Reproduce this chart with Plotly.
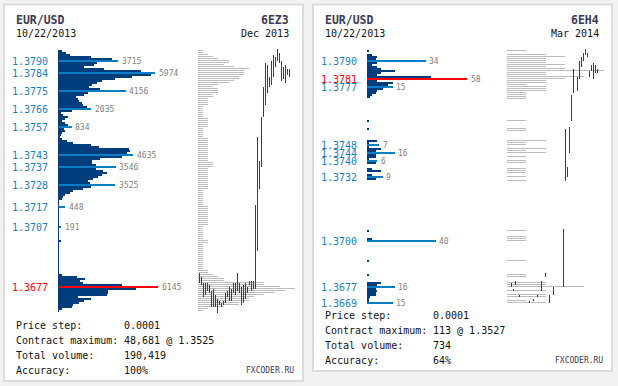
import plotly.graph_objects as go

W, H = 618, 386
PRICE_TOP = 1.3795
PRICE_STEP = 0.0001

# ---------------- Panel 1 (6EZ3, Dec 2013) ----------------
P1_VOL = [246, 492, 737, 2028, 3318, 3715, 2397, 2212, 1598, 2827,
          5100, 5974, 5715, 4547, 3503, 2704, 2397, 2089, 1905, 2581,
          4156, 1844, 1598, 1106, 1229, 1290, 1475, 1536, 1782, 2035,
          860, 184, 307, 615, 430, 246, 430, 615, 834, 369,
          430, 246, 184, 123, 246, 553, 922, 2028, 2519, 4363,
          4424, 4240, 4635, 3933, 2581, 2089, 2089, 2335, 3546, 2335,
          2765, 3011, 2704, 2458, 2151, 1844, 1966, 3525, 2028, 1536,
          922, 737, 430, 307, 246, 61, 0, 61, 448, 0,
          0, 0, 0, 0, 0, 61, 61, 0, 191, 0,
          0, 0, 0, 0, 0, 184, 0, 0, 61, 0,
          0, 0, 0, 0, 0, 0, 0, 0, 0, 0,
          0, 0, 246, 1168, 1659, 1352, 1536, 3933, 6145, 4793,
          3073, 3073, 3011, 1229, 2028, 1598, 1290, 922, 860, 246, 61]
P1_HL_PRICE = [1.3790, 1.3784, 1.3775, 1.3766, 1.3757, 1.3743, 1.3737, 1.3728, 1.3717, 1.3707, 1.3677]
P1_HL_VOL = [3715, 5974, 4156, 2035, 834, 4635, 3546, 3525, 448, 191, 6145]
P1_GRAY = [1, 1, 2, 3, 4, 6, 6, 5, 7, 10,
           9, 9, 9, 8, 8, 7, 6, 4, 3, 4,
           4, 4, 3, 3, 2, 2, 2, 2, 1, 1,
           1, 1, 1, 1, 2, 2, 2, 2, 2, 1,
           1, 1, 1, 1, 2, 2, 2, 2, 2, 2,
           2, 2, 2, 2, 2, 2, 3, 3, 3, 2,
           2, 2, 2, 2, 2, 2, 2, 2, 2, 2,
           1, 1, 1, 1, 1, 1, 1, 1, 2, 2,
           2, 2, 2, 2, 2, 2, 2, 2, 1, 1,
           1, 1, 1, 1, 1, 2, 2, 1, 1, 1,
           1, 1, 1, 1, 1, 1, 1, 1, 1, 1,
           2, 2, 3, 4, 5, 5, 13, 13, 16, 19,
           17, 15, 13, 11, 10, 10, 8, 8, 5, 2, 1]
P1_BAR_IDX = list(range(46))
P1_BAR_HIGH = [1.3684, 1.3682, 1.3679, 1.3679, 1.3679, 1.3678, 1.3675, 1.3676, 1.3673, 1.3671,
               1.3670, 1.3669, 1.3670, 1.3674, 1.3675, 1.3677, 1.3676, 1.3679, 1.3679, 1.3684,
               1.3679, 1.3677, 1.3678, 1.3679, 1.3677, 1.3680, 1.3680, 1.3680, 1.3718, 1.3752,
               1.3740, 1.3762, 1.3777, 1.3789, 1.3788, 1.3782, 1.3790, 1.3793, 1.3792, 1.3796,
               1.3794, 1.3790, 1.3787, 1.3788, 1.3786, 1.3786]
P1_BAR_LOW = [1.3679, 1.3678, 1.3672, 1.3673, 1.3675, 1.3674, 1.3667, 1.3667, 1.3667, 1.3664,
              1.3668, 1.3667, 1.3668, 1.3669, 1.3672, 1.3670, 1.3670, 1.3674, 1.3673, 1.3675,
              1.3674, 1.3668, 1.3669, 1.3671, 1.3674, 1.3678, 1.3675, 1.3676, 1.3676, 1.3695,
              1.3726, 1.3737, 1.3762, 1.3768, 1.3774, 1.3777, 1.3778, 1.3782, 1.3787, 1.3790,
              1.3789, 1.3780, 1.3781, 1.3779, 1.3783, 1.3782]
P1_HEAD = ["EUR/USD", "10/22/2013", "6EZ3", "Dec 2013"]
P1_STATS = ["0.0001", "48,681 @ 1.3525", "190,419", "100%"]

# ---------------- Panel 2 (6EH4, Mar 2014) ----------------
P2_VOL = [1, 0, 3, 6, 5, 34, 6, 3, 6, 8,
          16, 8, 6, 37, 58, 6, 15, 12, 15, 9,
          6, 5, 3, 2, 0, 0, 0, 0, 0, 0,
          0, 0, 0, 0, 0, 1, 0, 0, 0, 1,
          0, 0, 0, 0, 0, 6, 1, 7, 1, 8,
          5, 16, 5, 5, 1, 6, 5, 0, 0, 3,
          8, 0, 3, 9, 5, 0, 0, 0, 0, 0,
          0, 0, 0, 0, 0, 0, 0, 0, 0, 0,
          0, 0, 0, 0, 0, 0, 0, 0, 0, 0,
          1, 0, 0, 0, 3, 40, 0, 0, 0, 0,
          0, 0, 0, 0, 0, 1, 0, 0, 0, 0,
          0, 0, 1, 0, 0, 0, 8, 6, 16, 5,
          6, 5, 5, 2, 1, 1, 15]
P2_HL_PRICE = [1.3790, 1.3781, 1.3777, 1.3748, 1.3744, 1.3740, 1.3732, 1.3700, 1.3677, 1.3669]
P2_HL_VOL = [34, 58, 15, 7, 16, 6, 9, 40, 16, 15]
P2_GRAY = [1, 0, 2, 3, 2, 2, 2, 3, 2, 3,
           5, 2, 2, 4, 3, 2, 2, 1, 2, 2,
           2, 1, 1, 1, 1, 0, 0, 0, 0, 0,
           0, 0, 0, 0, 0, 1, 0, 0, 0, 1,
           1, 0, 0, 0, 0, 2, 1, 1, 0, 2,
           1, 2, 0, 1, 0, 1, 1, 0, 0, 1,
           1, 1, 0, 1, 0, 1, 0, 0, 0, 0,
           0, 0, 0, 0, 0, 0, 0, 0, 0, 0,
           0, 0, 0, 0, 0, 0, 0, 0, 0, 0,
           1, 0, 0, 1, 1, 1, 0, 0, 0, 0,
           0, 0, 0, 0, 0, 1, 0, 0, 0, 0,
           0, 0, 1, 1, 0, 0, 2, 2, 4, 0,
           2, 0, 2, 2, 0, 1, 2]
P2_BAR_IDX = [0, 1, 2, 4, 9, 11, 13, 15, 17, 19, 21, 26, 27, 28, 29, 30, 31, 33, 34, 35,
              36, 37, 38, 39, 40, 41, 42, 43]
P2_BAR_HIGH = [1.3679, 1.3676, 1.3680, 1.3673, 1.3670, 1.3671, 1.3673, 1.3680, 1.3684, 1.3673,
               1.3677, 1.3706, 1.3756, 1.3737, 1.3757, 1.3773, 1.3786, 1.3782, 1.3790, 1.3792,
               1.3794, 1.3796, 1.3794, 1.3785, 1.3788, 1.3789, 1.3788, 1.3786]
P2_BAR_LOW = [1.3677, 1.3675, 1.3678, 1.3672, 1.3669, 1.3670, 1.3672, 1.3675, 1.3682, 1.3669,
              1.3673, 1.3677, 1.3730, 1.3732, 1.3744, 1.3760, 1.3774, 1.3775, 1.3781, 1.3787,
              1.3790, 1.3793, 1.3792, 1.3782, 1.3785, 1.3781, 1.3784, 1.3784]
P2_HEAD = ["EUR/USD", "10/22/2013", "6EH4", "Mar 2014"]
P2_STATS = ["0.0001", "113 @ 1.3527", "734", "64%"]

STAT_NAMES = ["Price step:", "Contract maximum:", "Total volume:", "Accuracy:"]
BRAND = "FXCODER.RU"

# ---------------- styles ----------------
DARK = "#003d7c"
LIGHT = "#0a7dc4"
RED = "#ff0000"
LBLUE = "#1a7fc2"
GRAY = "#bcbcbc"
BARC = "#3f3f3f"
VALC = "#808080"
HEADC = "#3b3b52"
MONO = "DejaVu Sans Mono"

Y_MIN, Y_MAX = 1.36275, 1.38205


def fx(px):
    return px / W


def fy(py):
    return 1 - py / H


def levels(n):
    return [round(PRICE_TOP - i * PRICE_STEP, 4) for i in range(n)]


fig = go.Figure()
annotations = []
shapes = []

panels = [
    dict(vol=P1_VOL, hlp=P1_HL_PRICE, hlv=P1_HL_VOL, gray=P1_GRAY,
         bi=P1_BAR_IDX, bh=P1_BAR_HIGH, bl=P1_BAR_LOW, head=P1_HEAD, stats=P1_STATS,
         box=(4, 4.5, 303, 381), axis_px=58, gray_px=198, gray_unit=5.1, bar_px=199.5,
         text_x=14, head_right=291, stat_val_x=122, stat_y0=325, brand_right=296,
         axes=("x", "x2", "x3"), axis_line=True),
    dict(vol=P2_VOL, hlp=P2_HL_PRICE, hlv=P2_HL_VOL, gray=P2_GRAY,
         bi=P2_BAR_IDX, bh=P2_BAR_HIGH, bl=P2_BAR_LOW, head=P2_HEAD, stats=P2_STATS,
         box=(313, 4.5, 612, 371), axis_px=367, gray_px=507, gray_unit=19.3, bar_px=511.5,
         text_x=323, head_right=601, stat_val_x=431, stat_y0=315, brand_right=605,
         axes=("x4", "x5", "x6"), axis_line=False),
]

layout_axes = {}
for k, p in enumerate(panels):
    ax_prof, ax_gray, ax_bar = p["axes"]
    prices = levels(len(p["vol"]))
    vmax = max(p["hlv"])

    # panel box
    x0, y0, x1, y1 = p["box"]
    shapes.append(dict(type="rect", xref="paper", yref="paper", x0=fx(x0), x1=fx(x1),
                       y0=fy(y1), y1=fy(y0), fillcolor="white",
                       line=dict(color="#dcdcdc", width=2), layer="below"))

    # volume profile
    fig.add_trace(go.Bar(x=p["vol"], y=prices, orientation="h", width=PRICE_STEP,
                         marker=dict(color=DARK, line=dict(width=0)),
                         xaxis=ax_prof, yaxis="y", hoverinfo="skip"))
    fig.add_trace(go.Bar(x=p["hlv"], y=p["hlp"], orientation="h", width=PRICE_STEP,
                         marker=dict(color=[RED if v == vmax else LIGHT for v in p["hlv"]],
                                     line=dict(width=0)),
                         xaxis=ax_prof, yaxis="y", hoverinfo="skip"))
    # gray profile
    fig.add_trace(go.Bar(x=p["gray"], y=prices, orientation="h", width=PRICE_STEP / 2, offset=0,
                         marker=dict(color=GRAY, line=dict(width=0)),
                         xaxis=ax_gray, yaxis="y", hoverinfo="skip"))
    # price bars
    xs, ys = [], []
    for i, hi, lo in zip(p["bi"], p["bh"], p["bl"]):
        xs += [i, i, None]
        ys += [hi, lo, None]
    fig.add_trace(go.Scatter(x=xs, y=ys, mode="lines", line=dict(color=BARC, width=1),
                             xaxis=ax_bar, yaxis="y", hoverinfo="skip"))

    # axes
    def key(a):
        return "xaxis" if a == "x" else "xaxis" + a[1:]
    layout_axes[key(ax_prof)] = dict(domain=[fx(p["axis_px"]), fx(p["axis_px"] + 100)],
                                     range=[0, vmax], anchor="y", visible=False, fixedrange=True)
    layout_axes[key(ax_gray)] = dict(domain=[fx(p["gray_px"]), fx(p["gray_px"] + 100)],
                                     range=[0, 100 / p["gray_unit"]], anchor="y", visible=False)
    off = (p["bar_px"] - p["gray_px"]) / 2
    layout_axes[key(ax_bar)] = dict(domain=[fx(p["gray_px"]), fx(p["gray_px"] + 100)],
                                    range=[-off, 50 - off], anchor="y", visible=False)

    if p["axis_line"]:
        shapes.append(dict(type="line", xref="paper", yref="y",
                           x0=fx(p["axis_px"] + 0.5), x1=fx(p["axis_px"] + 0.5),
                           y0=min(prices) - PRICE_STEP / 2, y1=max(prices) + PRICE_STEP / 2,
                           line=dict(color=DARK, width=1), layer="above"))

    # price labels + value labels
    for pr, v in zip(p["hlp"], p["hlv"]):
        annotations.append(dict(x=fx(p["axis_px"] - 8), xref="paper", y=pr, yref="y",
                                text=f"{pr:.4f}", showarrow=False, xanchor="right", yanchor="middle",
                                font=dict(family=MONO, size=10, color=RED if v == vmax else LBLUE)))
        annotations.append(dict(x=v, xref=ax_prof, y=pr, yref="y", text=str(v), showarrow=False,
                                xanchor="left", yanchor="middle", xshift=1.5,
                                font=dict(family=MONO, size=8, color=VALC)))

    # headers
    tx = p["text_x"]
    annotations += [
        dict(x=fx(tx), y=fy(20), xref="paper", yref="paper", text="<b>%s</b>" % p["head"][0],
             showarrow=False, xanchor="left", yanchor="middle",
             font=dict(family=MONO, size=11.5, color=HEADC)),
        dict(x=fx(tx), y=fy(34), xref="paper", yref="paper", text=p["head"][1],
             showarrow=False, xanchor="left", yanchor="middle",
             font=dict(family=MONO, size=10, color="#111111")),
        dict(x=fx(p["head_right"]), y=fy(20), xref="paper", yref="paper", text="<b>%s</b>" % p["head"][2],
             showarrow=False, xanchor="right", yanchor="middle",
             font=dict(family=MONO, size=11.5, color=HEADC)),
        dict(x=fx(p["head_right"]), y=fy(34), xref="paper", yref="paper", text=p["head"][3],
             showarrow=False, xanchor="right", yanchor="middle",
             font=dict(family=MONO, size=10, color="#111111")),
    ]
    # stats
    for r, (name, val) in enumerate(zip(STAT_NAMES, p["stats"])):
        yy = fy(p["stat_y0"] + 15 * r)
        annotations.append(dict(x=fx(tx), y=yy, xref="paper", yref="paper", text=name,
                                showarrow=False, xanchor="left", yanchor="middle",
                                font=dict(family=MONO, size=10, color="#111111")))
        annotations.append(dict(x=fx(p["stat_val_x"]), y=yy, xref="paper", yref="paper", text=val,
                                showarrow=False, xanchor="left", yanchor="middle",
                                font=dict(family=MONO, size=10, color="#111111")))
    annotations.append(dict(x=fx(p["brand_right"]), y=fy(p["stat_y0"] + 45), xref="paper", yref="paper",
                            text=BRAND, showarrow=False, xanchor="right", yanchor="middle",
                            font=dict(family=MONO, size=8, color=HEADC)))

fig.update_layout(
    width=W, height=H, margin=dict(l=0, r=0, t=0, b=0),
    paper_bgcolor="#f2f2f2", plot_bgcolor="rgba(0,0,0,0)",
    showlegend=False, barmode="overlay", bargap=0, bargroupgap=0,
    yaxis=dict(domain=[0, 1], range=[Y_MIN, Y_MAX], visible=False, anchor="x"),
    annotations=annotations, shapes=shapes,
    **layout_axes,
)
fig.write_html("out.html", config={"displayModeBar": False},
               post_script="document.body.style.margin='0px';document.body.style.overflow='hidden';")
